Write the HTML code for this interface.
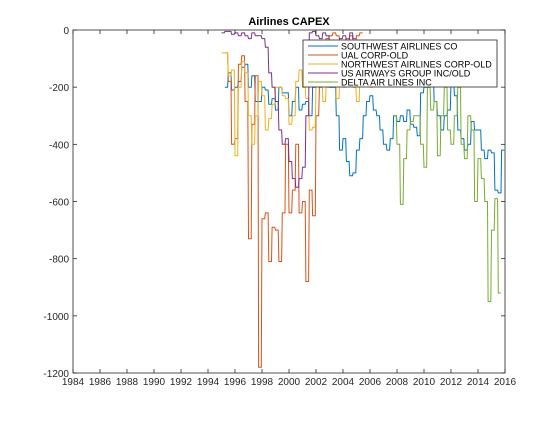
<!DOCTYPE html>
<html><head><meta charset="utf-8"><style>
body{margin:0;background:#fff;}
svg{font-family:"Liberation Sans",sans-serif;}
</style></head><body>
<svg id="chart" width="560" height="420">
<rect x="0" y="0" width="560" height="420" fill="#fff"/>
<text x="289" y="25" text-anchor="middle" font-size="11" font-weight="bold">Airlines CAPEX</text>
<g id="plot"></g>
</svg>
<script>
const xTicks=[1984,1986,1988,1990,1992,1994,1996,1998,2000,2002,2004,2006,2008,2010,2012,2014,2016];
const yTicks=[0,-200,-400,-600,-800,-1000,-1200];
const seriesNames=["SOUTHWEST AIRLINES CO","UAL CORP-OLD","NORTHWEST AIRLINES CORP-OLD","US AIRWAYS GROUP INC/OLD","DELTA AIR LINES INC"];
const seriesStart=[1995.25,1995.25,1995.0,1995.0,2007.75];
const southwest=[-200,-150,-210,-200,-180,-130,-120,-200,-160,-250,-250,-200,-210,-260,-240,-280,-200,-220,-220,-300,-250,-200,-280,-260,-250,-300,-200,-100,-150,-50,-120,-200,-200,-300,-420,-380,-460,-510,-500,-420,-380,-300,-250,-230,-280,-300,-350,-400,-420,-380,-300,-320,-300,-320,-280,-330,-340,-370,-220,-200,-200,-150,-250,-300,-350,-300,-280,-180,-230,-350,-380,-420,-400,-320,-350,-350,-420,-450,-420,-430,-560,-570,-420];
const ual=[-80,-180,-400,-380,-120,-90,-250,-730,-330,-160,-1180,-660,-640,-810,-690,-700,-810,-640,-400,-640,-560,-400,-640,-600,-880,-560,-650,-300,-200,-100,-30,-20,-10,-20,-40,-50,-30,-20,-60,-20,-10];
const northwest=[-80,-80,-160,-140,-440,-200,-110,-150,-300,-400,-300,-180,-230,-350,-310,-260,-200,-200,-230,-240,-330,-300,-180,-140,-200,-240,-350,-340,-180,-150,-250,-200,-140,-100,-240,-180,-200,-140,-120,-200,-250,-150,-130,-160,-200,-110,-150,-180,-130,-120,-180];
const usairways=[-10,-5,-5,-15,-10,-20,-10,-20,-30,-10,-20,-20,-30,-60,-150,-200,-250,-350,-400,-380,-460,-520,-550,-520,-480,-300,-10,-5,-20,-30,-10,-20,-40,-60,-80,-30,-20,-50,-10,-30];
const delta=[-300,-400,-610,-450,-350,-320,-300,-300,-400,-480,-200,-280,-250,-440,-300,-200,-350,-400,-300,-200,-400,-450,-300,-350,-600,-450,-520,-600,-950,-700,-590,-920];
const colors=["#0072bd","#d95319","#edb120","#7e2f8e","#77ac30"];
const L=73,R=505,T=30,B=373;
const xs=v=>L+(v-1984)/(2016-1984)*(R-L);
const ys=v=>T+(0-v)/1200*(B-T);
const NS="http://www.w3.org/2000/svg";
const g=document.getElementById('plot');
function mk(t,a){const e=document.createElementNS(NS,t);for(const k in a)e.setAttribute(k,a[k]);return e;}
const all=[southwest,ual,northwest,usairways,delta];
all.forEach((s,i)=>{
  let pts=[];
  s.forEach((v,j)=>{const t=seriesStart[i]+j*0.25;pts.push(xs(t).toFixed(1)+','+ys(v).toFixed(1));pts.push(xs(t+0.2).toFixed(1)+','+ys(v).toFixed(1));});
  const p=mk('polyline',{points:pts.join(' '),fill:'none',stroke:colors[i],'stroke-width':1});
  
  
  g.appendChild(p);
});
const fr=mk('rect',{x:L,y:T,width:R-L,height:B-T,fill:'none',stroke:'#262626','stroke-width':0.8});


g.appendChild(fr);
xTicks.forEach(v=>{
  const x=xs(v);
  g.appendChild(mk('line',{x1:x,x2:x,y1:B,y2:B-4,stroke:'#262626','stroke-width':0.8}));
  g.appendChild(mk('line',{x1:x,x2:x,y1:T,y2:T+4,stroke:'#262626','stroke-width':0.8}));
  const t=mk('text',{x:x,y:B+12,'text-anchor':'middle','font-size':10,fill:'#262626'});
  t.textContent=v;
  
  
  g.appendChild(t);
});
yTicks.forEach(v=>{
  const y=ys(v);
  g.appendChild(mk('line',{x1:L,x2:L+4,y1:y,y2:y,stroke:'#262626','stroke-width':0.8}));
  g.appendChild(mk('line',{x1:R,x2:R-4,y1:y,y2:y,stroke:'#262626','stroke-width':0.8}));
  const t=mk('text',{x:L-4,y:y+4,'text-anchor':'end','font-size':10,fill:'#262626'});
  t.textContent=v;
  
  
  g.appendChild(t);
});
const lg=mk('g',{});


lg.appendChild(mk('rect',{x:303,y:40,width:194,height:47,fill:'#fff',stroke:'#262626','stroke-width':0.8}));
seriesNames.forEach((n,i)=>{
  const y=46+i*9;
  lg.appendChild(mk('line',{x1:308,x2:338,y1:y,y2:y,stroke:colors[i],'stroke-width':1}));
  const t=mk('text',{x:341,y:y+3.5,'font-size':9,fill:'#000'});
  t.textContent=n;
  
  
  lg.appendChild(t);
});
g.appendChild(lg);
</script>
</body></html>
